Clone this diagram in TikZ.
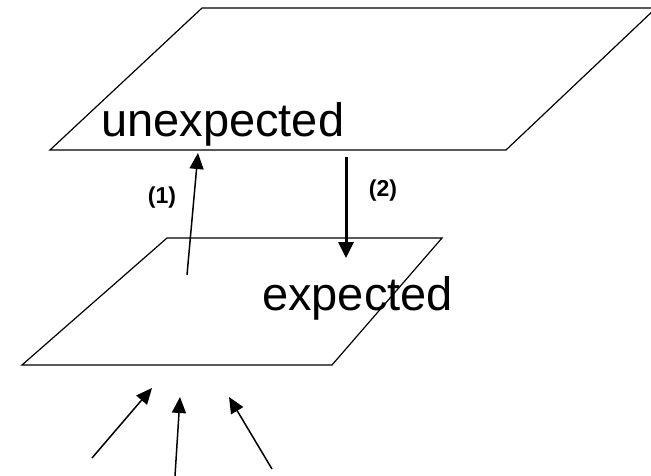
\documentclass[tikz,border=0pt]{standalone}
\usepackage{fontspec}
\setmainfont{Liberation Sans}
\usetikzlibrary{positioning,arrows.meta}

\begin{document}
\begin{tikzpicture}[x=1pt, y=-1pt,
plane/.style={draw=black, line width=1.2pt, line join=miter},
upflow/.style={-{Triangle[length=16pt,width=14pt]}, line width=1.5pt},
downflow/.style={-{Triangle[length=16pt,width=15pt]}, line width=3pt},
word/.style={anchor=base west, inner sep=0pt, font=\fontsize{47}{56}\selectfont},
tag/.style={inner sep=0pt, font=\fontsize{23}{27}\selectfont\bfseries}
]
\useasboundingbox (0,0) rectangle (651,475);

%Planes
\coordinate (U1) at (50,150);
\coordinate (U2) at (506,150);
\coordinate (U3) at (656,8);
\coordinate (U4) at (202,8);
\coordinate (E1) at (22,365);
\coordinate (E2) at (332,365);
\coordinate (E3) at (442,238);
\coordinate (E4) at (167,238);
\draw[plane] (U1) -- (U2) -- (U3) -- (U4) -- cycle;
\draw[plane] (E1) -- (E2) -- (E3) -- (E4) -- cycle;

%Texts
\node[word] (W1) at (101,136) {unexpected};
\node[word] (W2) at (262,310) {expected};
\node[tag] (T1) at (162,198) {(1)};
\node[tag] (T2) at (383,191) {(2)};

%Arrow ends
\coordinate (A1) at (187,275);
\coordinate (A2) at (198,153);
\coordinate (B1) at (346,157);
\coordinate (B2) at (346,258);
\coordinate (S1) at (92,458);
\coordinate (S2) at (152,388);
\coordinate (S3) at (175,476);
\coordinate (S4) at (180,397);
\coordinate (S5) at (272,469);
\coordinate (S6) at (229,397);

%Arrows
\draw[upflow] (A1) -- (A2);
\draw[downflow] (B1) -- (B2);
\draw[upflow] (S1) -- (S2);
\draw[upflow] (S3) -- (S4);
\draw[upflow] (S5) -- (S6);
\end{tikzpicture}
\end{document}
